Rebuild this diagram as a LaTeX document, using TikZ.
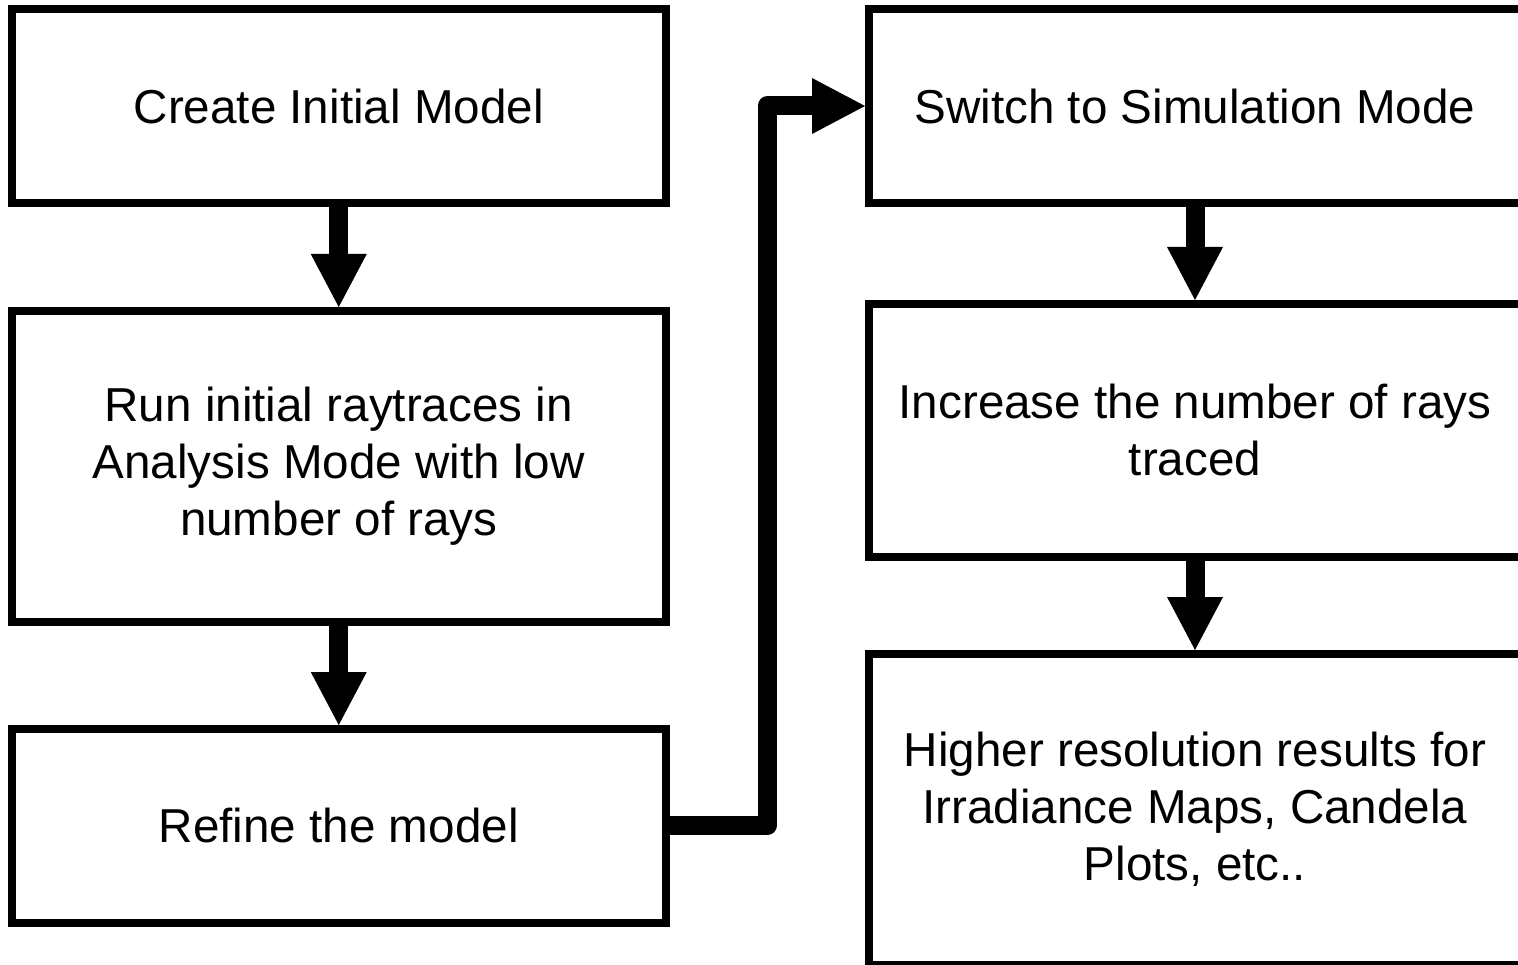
\documentclass[tikz,border=0pt]{standalone}
\usepackage{fontspec}
\setmainfont{Liberation Sans}
\usetikzlibrary{arrows.meta}
\begin{document}
\begin{tikzpicture}[x=1pt,y=-1pt,
  box/.style={draw=black, line width=8pt, fill=white, inner sep=0pt,
    align=center, font=\fontsize{47.6pt}{57pt}\selectfont},
  label text/.style={inner sep=0pt, align=center,
    font=\fontsize{47.6pt}{57pt}\selectfont},
  flow/.style={line width=19pt, line join=round,
    -{Triangle[width=56pt,length=53pt,line width=0pt]}}]
\useasboundingbox (0,0) rectangle (1518,965);
% left column
\node[box, minimum width=653.5pt, minimum height=194pt] (b1) at (338.75,106) {Create Initial Model};
\node[box, minimum width=653.5pt, minimum height=311pt] (b2) at (338.75,466.5) {Run initial raytraces in\\Analysis Mode with low\\number of rays};
\node[box, minimum width=653.5pt, minimum height=193.5pt] (b3) at (338.75,825.75) {Refine the model};
% right column: the boxes run past the right edge of the page
\node[box, minimum width=662pt, minimum height=194pt, anchor=west] (b4) at (865,106) {};
\node[box, minimum width=662pt, minimum height=252.5pt, anchor=west] (b5) at (865,430.25) {};
\node[box, minimum width=662pt, minimum height=311pt, anchor=west] (b6) at (865,809.5) {};
\node[label text] (t4) at (1195,106) {Switch to Simulation Mode};
\node[label text] (t5) at (1195,430.25) {Increase the number of rays\\traced};
\node[label text] (t6) at (1195,809.5) {Higher resolution results for\\Irradiance Maps, Candela\\Plots, etc..};
% connectors
\draw[flow] (b1.south) -- (b2.north);
\draw[flow] (b2.south) -- (b3.north);
\draw[flow] (b3.east) -- ++(97.5,0) |- (b4.west);
\draw[flow] (b4.south -| t4) -- (b5.north -| t5);
\draw[flow] (b5.south -| t5) -- (b6.north -| t6);
\end{tikzpicture}
\end{document}
